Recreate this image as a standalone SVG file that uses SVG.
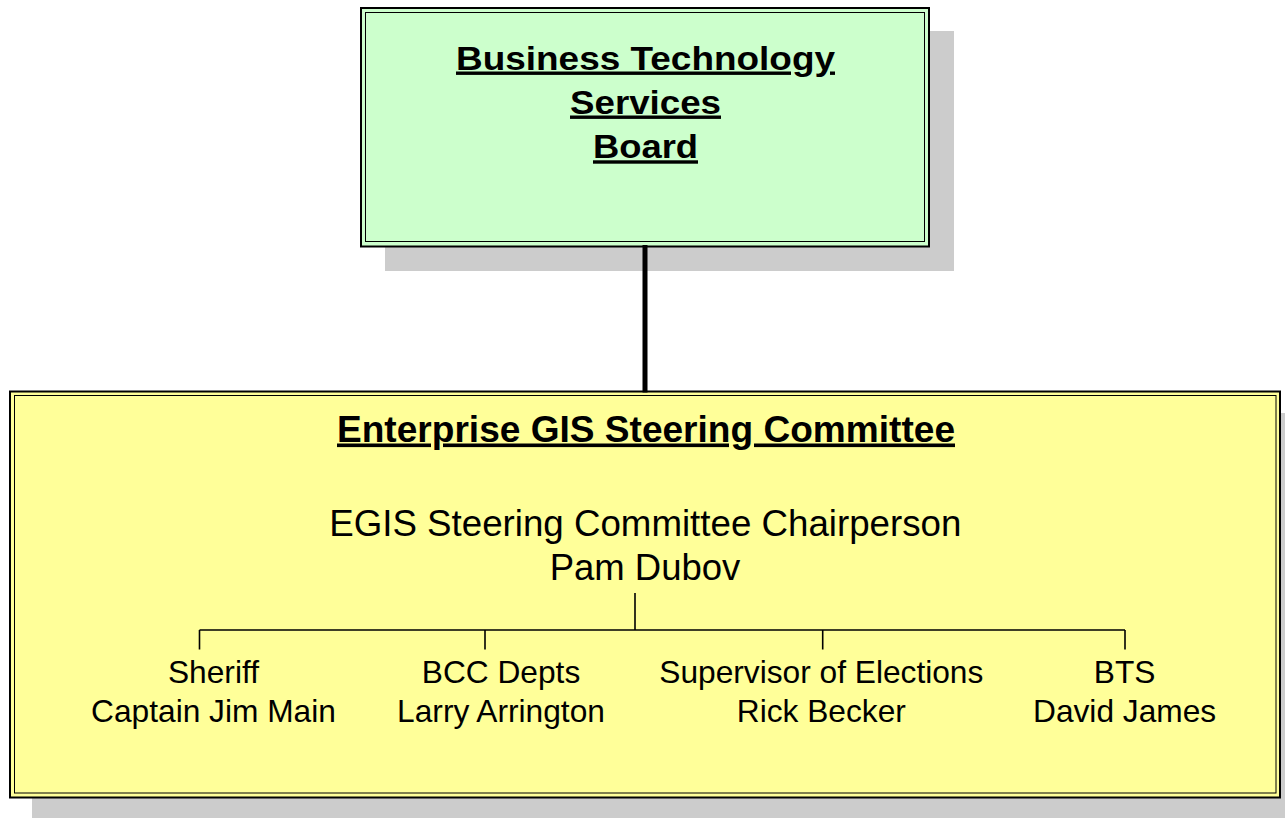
<svg xmlns="http://www.w3.org/2000/svg" width="1285" height="818" viewBox="0 0 1285 818">
<style>
.shadow{fill:#CCCCCC;stroke:none}
.outer{fill:none;stroke:#000;stroke-width:2}
.inner{fill:none;stroke:#000;stroke-width:1}
.title{font-family:"Liberation Sans",Arial,sans-serif;font-weight:bold;text-decoration:underline;text-anchor:middle;fill:#000}
.lbl{font-family:"Liberation Sans",Arial,sans-serif;text-anchor:middle;fill:#000}
.org{fill:none;stroke:#000;stroke-width:1.6}
</style>
<rect width="1285" height="818" fill="#fff"/>
<g id="board">
  <rect class="shadow" x="385" y="31" width="569" height="240"/>
  <rect x="361" y="8" width="568" height="238.5" fill="#CCFFCC"/>
  <rect class="outer" x="361" y="8" width="568" height="238.5"/>
  <rect class="inner" x="365.5" y="12.5" width="559" height="229"/>
  <text class="title" x="645.5" y="69.5" font-size="34" textLength="379" lengthAdjust="spacingAndGlyphs">Business Technology</text>
  <text class="title" x="645.5" y="113.5" font-size="34" textLength="151" lengthAdjust="spacingAndGlyphs">Services</text>
  <text class="title" x="645.5" y="158.3" font-size="34" textLength="105" lengthAdjust="spacingAndGlyphs">Board</text>
</g>
<g id="committee">
  <rect class="shadow" x="32" y="413" width="1260" height="410"/>
  <rect x="10" y="391.5" width="1270" height="406" fill="#FFFF99"/>
  <rect class="outer" x="10" y="391.5" width="1270" height="406"/>
  <rect class="inner" x="14.5" y="395.5" width="1261.5" height="397.5"/>
  <text class="title" x="646" y="441.5" font-size="36" textLength="618" lengthAdjust="spacingAndGlyphs">Enterprise GIS Steering Committee</text>
  <g id="chair">
    <text class="lbl" x="645.3" y="536" font-size="36.7">EGIS Steering Committee Chairperson</text>
    <text class="lbl" x="645" y="580" font-size="36.5">Pam Dubov</text>
  </g>
  <g id="orglines">
    <path class="org" d="M635 593V630M199.5 630H1125M199.5 630V649.5M485 630V649.5M822.7 630V649.5M1125 630V649.5"/>
  </g>
  <g id="sheriff">
    <text class="lbl" x="213.5" y="683.3" font-size="31.7">Sheriff</text>
    <text class="lbl" x="213.5" y="722.3" font-size="31.7">Captain Jim Main</text>
  </g>
  <g id="bcc">
    <text class="lbl" x="501" y="683.3" font-size="31.7">BCC Depts</text>
    <text class="lbl" x="501" y="722.3" font-size="31.7">Larry Arrington</text>
  </g>
  <g id="elections">
    <text class="lbl" x="821.3" y="683.3" font-size="31.7">Supervisor of Elections</text>
    <text class="lbl" x="821.3" y="722.3" font-size="31.7">Rick Becker</text>
  </g>
  <g id="bts">
    <text class="lbl" x="1124.6" y="683.3" font-size="31.7">BTS</text>
    <text class="lbl" x="1124.6" y="722.3" font-size="31.7">David James</text>
  </g>
</g>
<g id="connectors">
  <line x1="645" y1="245" x2="645" y2="392.5" stroke="#000" stroke-width="5"/>
</g>
</svg>
